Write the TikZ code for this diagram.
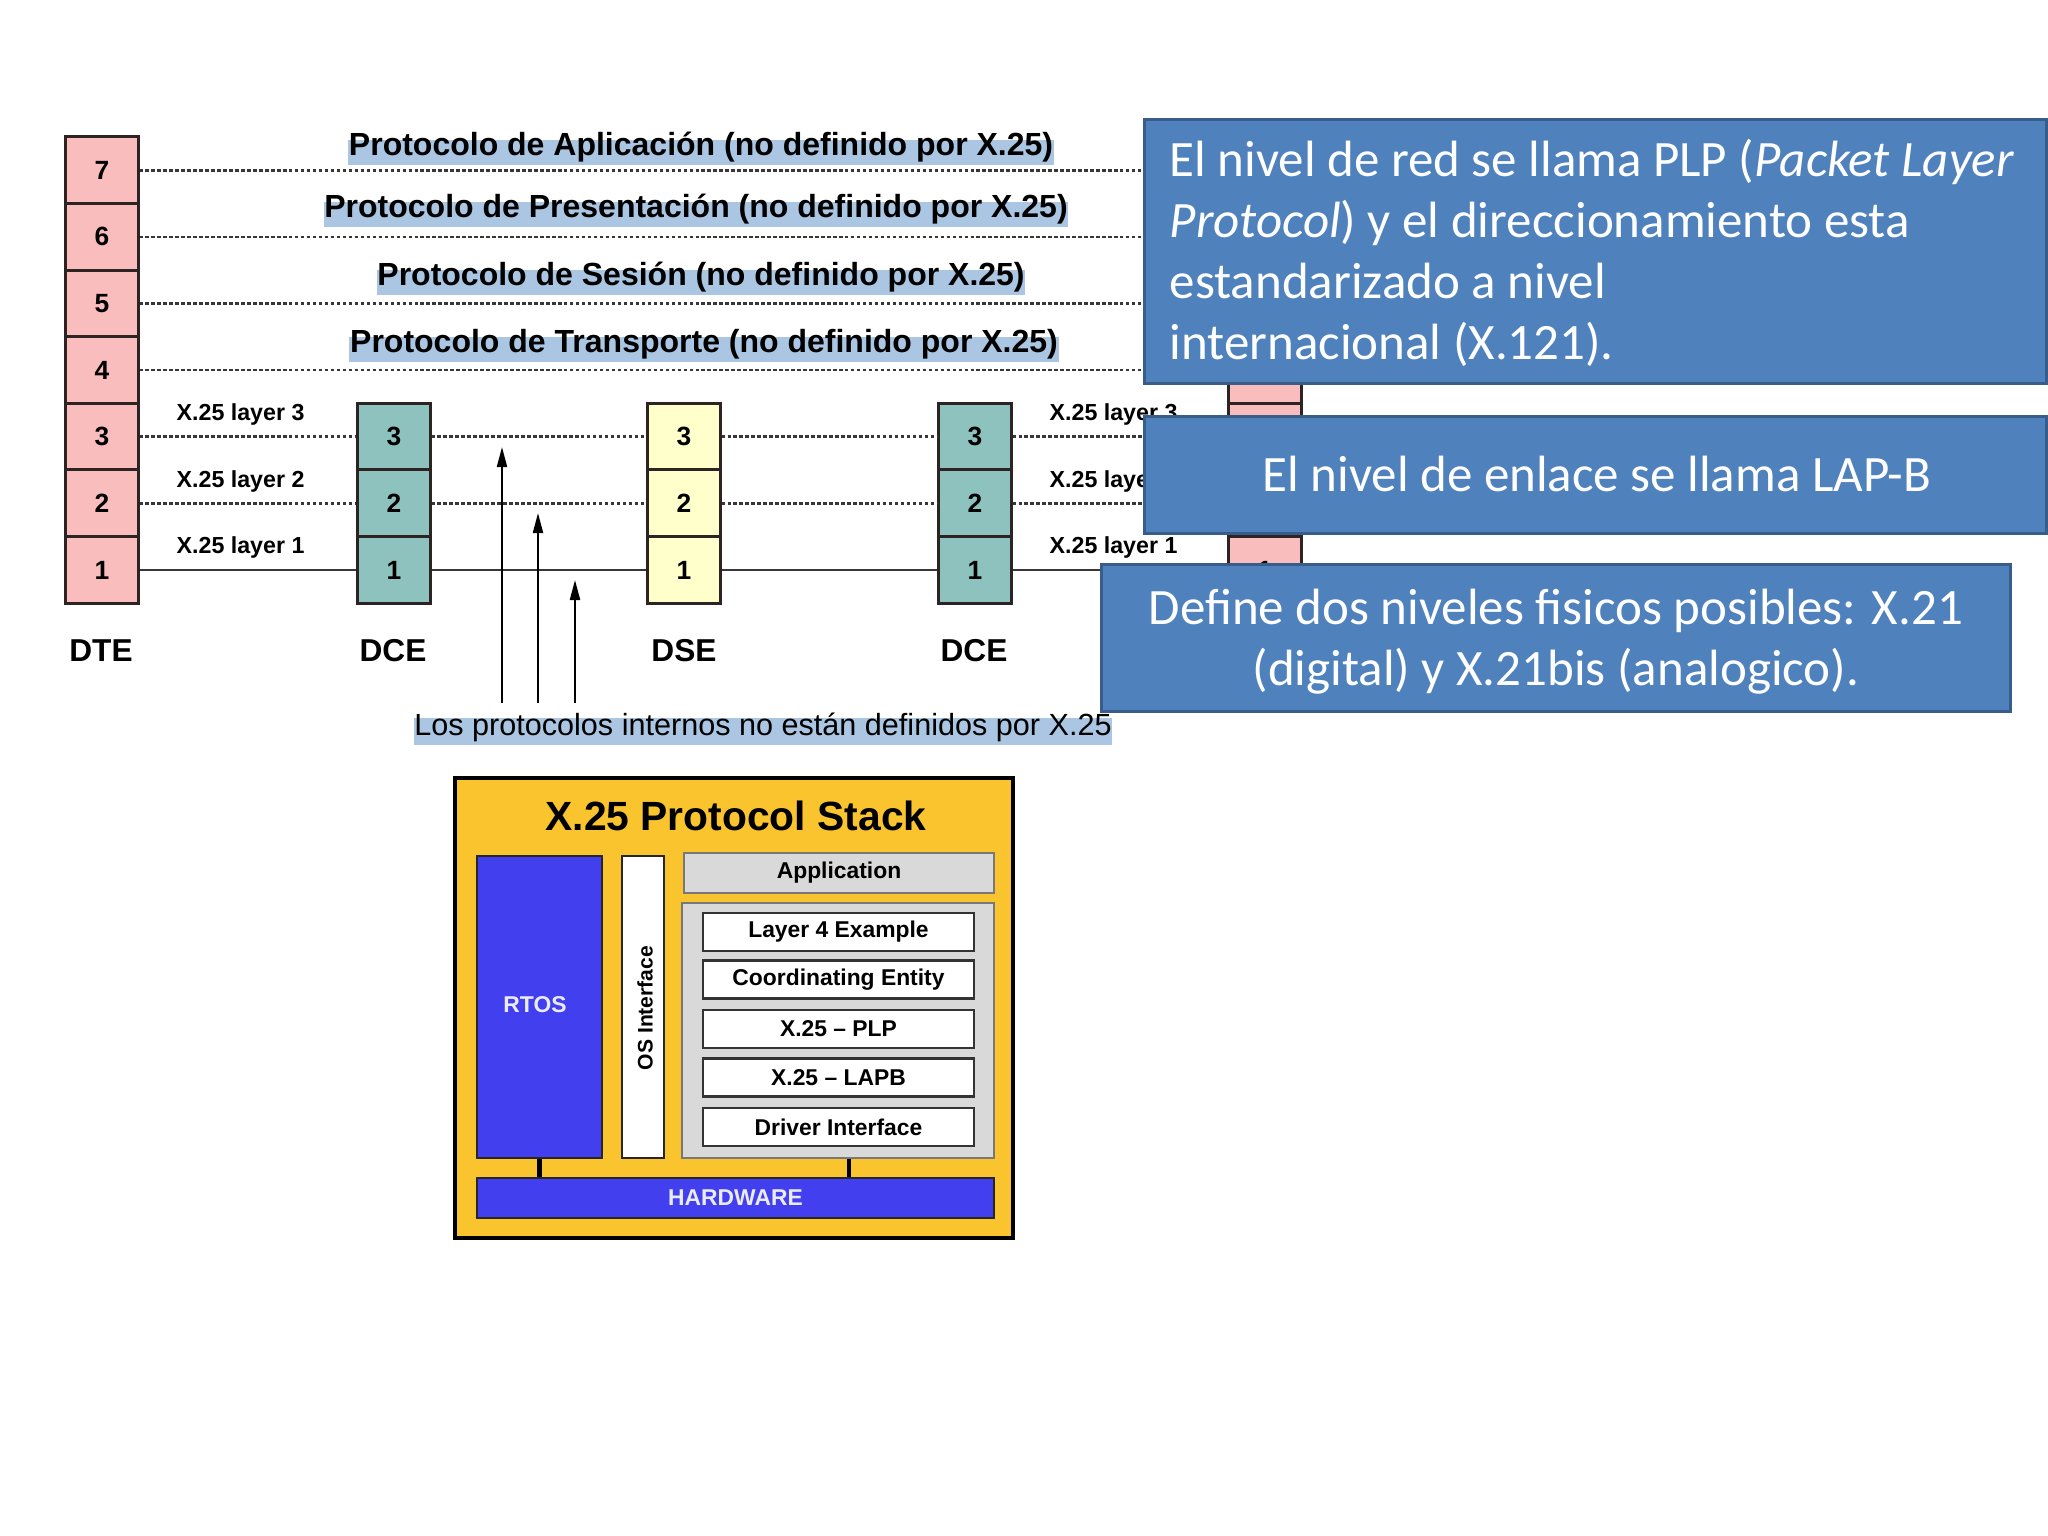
\documentclass[tikz,border=0pt]{standalone}
\usepackage{fontspec}
\setmainfont{Liberation Sans}
\newfontfamily\calfont{Carlito}
\usetikzlibrary{arrows.meta,calc,backgrounds}

\definecolor{dtepink}{RGB}{249,189,189}
\definecolor{dceteal}{RGB}{142,194,190}
\definecolor{dseyel}{RGB}{255,255,204}
\definecolor{cellline}{RGB}{45,35,35}
\definecolor{hlblue}{RGB}{170,198,226}
\definecolor{linegray}{RGB}{55,55,55}
\definecolor{boxblue}{RGB}{79,129,189}
\definecolor{boxedge}{RGB}{56,93,138}
\definecolor{stackgold}{RGB}{250,196,46}
\definecolor{rtosblue}{RGB}{66,64,238}
\definecolor{panelgray}{RGB}{217,217,217}
\definecolor{paneledge}{RGB}{120,120,120}

\tikzset{
  cell/.style={draw=cellline, line width=0.85pt, minimum width=0.72cm, minimum height=0.666cm, inner sep=0pt, font=\bfseries\fontsize{7.5}{9}\selectfont},
  dotline/.style={draw=linegray, line width=0.75pt, dash pattern=on 1pt off 0.7pt},
  solidline/.style={draw=linegray, line width=0.8pt},
  plabel/.style={inner sep=0pt, anchor=base, font=\bfseries\fontsize{9.1}{11}\selectfont},
  xlabel/.style={inner sep=0pt, anchor=base west, font=\bfseries\fontsize{6.6}{8}\selectfont},
  devlabel/.style={inner sep=0pt, font=\bfseries\fontsize{9}{11}\selectfont},
  upar/.style={draw=black, line width=0.6pt, -{Triangle[length=0.2cm,width=0.1cm]}},
  bluebox/.style={draw=boxedge, line width=0.85pt, fill=boxblue, inner sep=0pt},
  bluetext/.style={text=white, inner sep=0pt, font=\calfont\fontsize{14.5}{17.4}\selectfont},
  stackbox/.style={draw=black, line width=1pt, fill=stackgold, inner sep=0pt},
  blk/.style={inner sep=0pt, font=\bfseries\fontsize{6.5}{8}\selectfont},
  bar/.style={draw=black, line width=1.4pt}
}

\begin{document}
\begin{tikzpicture}[x=0.01cm,y=-0.01cm]
\useasboundingbox (0,0) rectangle (2048,1536);
\begin{scope}[on background layer]
  \fill[white] (0,0) rectangle (2048,1536);
\end{scope}

% ---------- layer stacks ----------
\foreach \n/\y in {7/170.3,6/236.9,5/303.5,4/370.1,3/436.7,2/503.3,1/570}{
  \node[cell,fill=dtepink] (L\n) at (102,\y) {\n};
}
% right DTE stack (mostly hidden under the callouts)
\foreach \n/\y in {7/170.3,6/236.9,5/303.5,4/370.1,3/436.7,2/503.3}{
  \node[cell,fill=dtepink] (R\n) at (1265,\y) {};
}
\node[cell,fill=dtepink] (R1) at (1265,570) {1};
\foreach \n/\y in {3/436.7,2/503.3,1/570}{
  \node[cell,fill=dceteal] (A\n) at (394,\y) {\n};
  \node[cell,fill=dseyel] (S\n) at (684,\y) {\n};
  \node[cell,fill=dceteal] (B\n) at (975,\y) {\n};
}

% ---------- peer lines ----------
\foreach \n in {7,6,5,4}{ \draw[dotline] (L\n.east) -- (R\n.west); }
\foreach \n in {3,2}{
  \draw[dotline] (L\n.east) -- (A\n.west);
  \draw[dotline] (A\n.east) -- (S\n.west);
  \draw[dotline] (S\n.east) -- (B\n.west);
  \draw[dotline] (B\n.east) -- (R\n.west);
}
\draw[solidline] (L1.east) -- (A1.west);
\draw[solidline] (A1.east) -- (S1.west);
\draw[solidline] (S1.east) -- (B1.west);
\draw[solidline] (B1.east) -- (R1.west);

% ---------- labels ----------
\node[plabel] (p7) at (701,155) {Protocolo de Aplicación (no definido por X.25)};
\node[plabel] (p6) at (696,217) {Protocolo de Presentación (no definido por X.25)};
\node[plabel] (p5) at (701,285) {Protocolo de Sesión (no definido por X.25)};
\node[plabel] (p4) at (704,352) {Protocolo de Transporte (no definido por X.25)};

\node[xlabel] (xl3) at (176,420) {X.25 layer 3};
\node[xlabel] (xl2) at (176,487) {X.25 layer 2};
\node[xlabel] (xl1) at (176,553) {X.25 layer 1};
\node[xlabel] (xr3) at (1049,420) {X.25 layer 3};
\node[xlabel] (xr2) at (1049,487) {X.25 layer 2};
\node[xlabel] (xr1) at (1049,553) {X.25 layer 1};

\node[devlabel] (dte) at (101,651) {DTE};
\node[devlabel] (dce1) at (393,651) {DCE};
\node[devlabel] (dse) at (684,651) {DSE};
\node[devlabel] (dce2) at (974,651) {DCE};

\node[plabel, font=\fontsize{8.7}{10}\selectfont] (los) at (763,735) {Los protocolos internos no están definidos por X.25};

\begin{scope}[on background layer]
  \foreach \p in {p7,p6,p5,p4}{
    \fill[hlblue] ([yshift=0.15cm]\p.base west) rectangle ([yshift=-0.10cm]\p.base east);
  }
  \fill[hlblue] ([yshift=0.17cm]los.base west) rectangle ([yshift=-0.10cm]los.base east);
\end{scope}

% ---------- arrows ----------
\coordinate (a1s) at (502,703); \coordinate (a1e) at (502,447);
\coordinate (a2s) at (538,703); \coordinate (a2e) at (538,513);
\coordinate (a3s) at (575,703); \coordinate (a3e) at (575,580);
\draw[upar] (a1s) -- (a1e);
\draw[upar] (a2s) -- (a2e);
\draw[upar] (a3s) -- (a3e);

% ---------- X.25 protocol stack ----------
\node[stackbox, minimum width=5.58cm, minimum height=4.6cm] (stack) at (734,1008) {};
\node[inner sep=0pt, anchor=base, font=\bfseries\fontsize{11.6}{13}\selectfont] (title) at (736,830) {X.25 Protocol Stack};
\node[draw=black!85, line width=0.6pt, fill=rtosblue, minimum width=1.25cm, minimum height=3.02cm, inner sep=0pt] (rtos) at (539.5,1007) {};
\node[blk, text=white!92!blue] (rtostxt) at (535,1005) {RTOS};
\node[draw=black!85, line width=0.6pt, fill=white, minimum width=0.42cm, minimum height=3.02cm, inner sep=0pt] (osi) at (643,1007) {};
\node[blk, rotate=90, font=\bfseries\fontsize{6}{7}\selectfont] (ositxt) at (645,1008) {OS Interface};
\node[draw=paneledge, line width=0.6pt, fill=panelgray, minimum width=3.1cm, minimum height=0.4cm, blk] (app) at (839,873) {Application};
\node[draw=paneledge, line width=0.6pt, fill=panelgray, minimum width=3.12cm, minimum height=2.55cm, inner sep=0pt] (cont) at (838,1030.5) {};
\foreach \nm/\y/\t in {l4/932/Layer 4 Example, ce/979.5/Coordinating Entity, plp/1029/X.25 -- PLP, lapb/1077.5/X.25 -- LAPB, drv/1127/Driver Interface}{
  \node[draw=black!80, line width=0.6pt, fill=white, minimum width=2.71cm, minimum height=0.38cm, blk] (\nm) at (838.5,\y) {\t};
}
\node[draw=black!85, line width=0.6pt, fill=rtosblue, minimum width=5.17cm, minimum height=0.4cm, blk, text=white!92!blue] (hw) at (735.5,1198) {HARDWARE};
\coordinate (barB) at ($(cont.south)+(11,0)$);
\draw[bar] (rtos.south) -- (rtos.south |- hw.north);
\draw[bar] (barB) -- (barB |- hw.north);

% ---------- blue callouts ----------
\node[bluebox, minimum width=9.01cm, minimum height=2.63cm] (boxA) at (1595.5,251.5) {};
\node[bluetext, anchor=base west] (ta1) at (1169,176) {El nivel de red se llama PLP (\textit{Packet Layer}};
\node[bluetext, anchor=base west] (ta2) at (1169,237) {\textit{Protocol}) y el direccionamiento esta};
\node[bluetext, anchor=base west] (ta3) at (1169,298) {estandarizado a nivel};
\node[bluetext, anchor=base west] (ta4) at (1169,359) {internacional (X.121).};

\node[bluebox, minimum width=9.01cm, minimum height=1.16cm] (boxB) at (1595.5,475) {};
\node[bluetext, anchor=base] (tb) at (1597,491) {El nivel de enlace se llama LAP-B};

\node[bluebox, minimum width=9.08cm, minimum height=1.46cm] (boxC) at (1556,638) {};
\node[bluetext, anchor=base] (tc1) at (1556,624) {Define dos niveles fisicos posibles: X.21};
\node[bluetext, anchor=base] (tc2) at (1556,685) {(digital) y X.21bis (analogico).};
\end{tikzpicture}
\end{document}
